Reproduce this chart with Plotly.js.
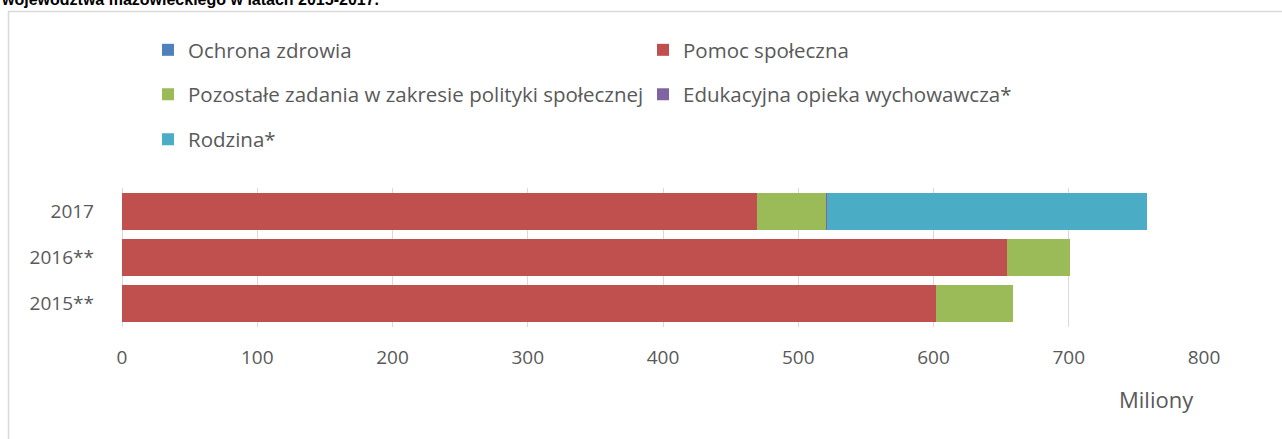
<!DOCTYPE html>
<html>
<head>
<meta charset="utf-8">
<script src="https://cdn.plot.ly/plotly-3.0.1.min.js"></script>
<style>
  html, body { margin: 0; padding: 0; background: #ffffff; }
  #chart { width: 1282px; height: 439px; }
</style>
</head>
<body>
<div id="chart"></div>
<script>
// ---- data ----
const years = ['2015**', '2016**', '2017'];
const ochronaZdrowia = [0.2, 0.2, 0.2];
const pomocSpoleczna = [601.6, 654.1, 469.1];
const pozostaleZadania = [57.2, 46.6, 51.2];
const edukacyjnaOpieka = [0, 0, 0.8];
const rodzina = [0, 0, 236.3];
const seriesNames = ['Ochrona zdrowia', 'Pomoc społeczna', 'Pozostałe zadania w zakresie polityki społecznej', 'Edukacyjna opieka wychowawcza*', 'Rodzina*'];
const seriesColors = ['#4F81BD', '#C0504D', '#9BBB59', '#8064A2', '#4BACC6'];
const xTickVals = [0, 100, 200, 300, 400, 500, 600, 700, 800];
const titleText = 'województwa mazowieckiego w latach 2015-2017.';
const axisUnit = 'Miliony';

// ---- layout helpers ----
const W = 1282, H = 439;
const M = {l: 122, r: 78, t: 188, b: 112};
const pw = W - M.l - M.r, ph = H - M.t - M.b;
const px2x = p => (p - M.l) / pw;
const px2y = p => (H - M.b - p) / ph;

const values = [ochronaZdrowia, pomocSpoleczna, pozostaleZadania, edukacyjnaOpieka, rodzina];
const legendIds = ['legend', 'legend2', 'legend3', 'legend4', 'legend5'];
const traces = values.map((v, i) => ({
  type: 'bar',
  orientation: 'h',
  y: years,
  x: v,
  name: seriesNames[i],
  marker: {color: seriesColors[i], line: {width: 0}},
  legend: legendIds[i],
  hoverinfo: 'x+name'
}));

const legFont = {family: 'Open Sans, sans-serif', size: 20.5, color: '#595959'};
const legPos = [[148, 50], [643, 50], [148, 94.5], [643, 94.5], [148, 139.5]];
const legendBase = (i) => ({
  xref: 'container', yref: 'container',
  x: legPos[i][0] / W, y: 1 - legPos[i][1] / H,
  xanchor: 'left', yanchor: 'middle',
  orientation: 'h', font: legFont, bgcolor: 'rgba(0,0,0,0)',
  borderwidth: 0, itemclick: false, itemdoubleclick: false
});

const layout = {
  width: W, height: H,
  margin: M,
  paper_bgcolor: '#ffffff', plot_bgcolor: '#ffffff',
  barmode: 'stack',
  bargap: 0.2,
  font: {family: 'Open Sans, sans-serif', color: '#595959'},
  xaxis: {
    range: [0, 800],
    tickvals: xTickVals,
    showgrid: true, gridcolor: '#d9d9d9', gridwidth: 1,
    zeroline: true, zerolinecolor: '#d9d9d9', zerolinewidth: 1,
    showline: false, ticks: '',
    tickfont: {family: 'Open Sans, sans-serif', size: 19, color: '#595959'},
    ticklabelstandoff: 17,
    fixedrange: true
  },
  yaxis: {
    type: 'category',
    showgrid: false, zeroline: false, showline: false, ticks: '',
    tickfont: {family: 'Open Sans, sans-serif', size: 19, color: '#595959'},
    ticklabelstandoff: 27,
    fixedrange: true
  },
  shapes: [{
    type: 'rect', xref: 'paper', yref: 'paper',
    x0: px2x(8.5), x1: px2x(1284), y0: px2y(445), y1: px2y(11.5),
    line: {color: '#d9d9d9', width: 1.5}, fillcolor: 'rgba(0,0,0,0)', layer: 'below'
  }],
  annotations: [
    {
      text: '<b>' + titleText + '</b>', showarrow: false,
      xref: 'paper', yref: 'paper', x: px2x(-1), y: px2y(-1),
      xanchor: 'left', yanchor: 'middle',
      font: {family: 'Liberation Sans, Arial, sans-serif', size: 16, color: '#000000'}
    },
    {
      text: axisUnit, showarrow: false,
      xref: 'paper', yref: 'paper', x: px2x(1156), y: px2y(399),
      xanchor: 'center', yanchor: 'middle',
      font: {family: 'Open Sans, sans-serif', size: 22, color: '#595959'}
    }
  ],
  showlegend: true
};
legendIds.forEach((id, i) => { layout[id] = legendBase(i); });

Plotly.newPlot('chart', traces, layout, {displayModeBar: false, staticPlot: true});
</script>
</body>
</html>
